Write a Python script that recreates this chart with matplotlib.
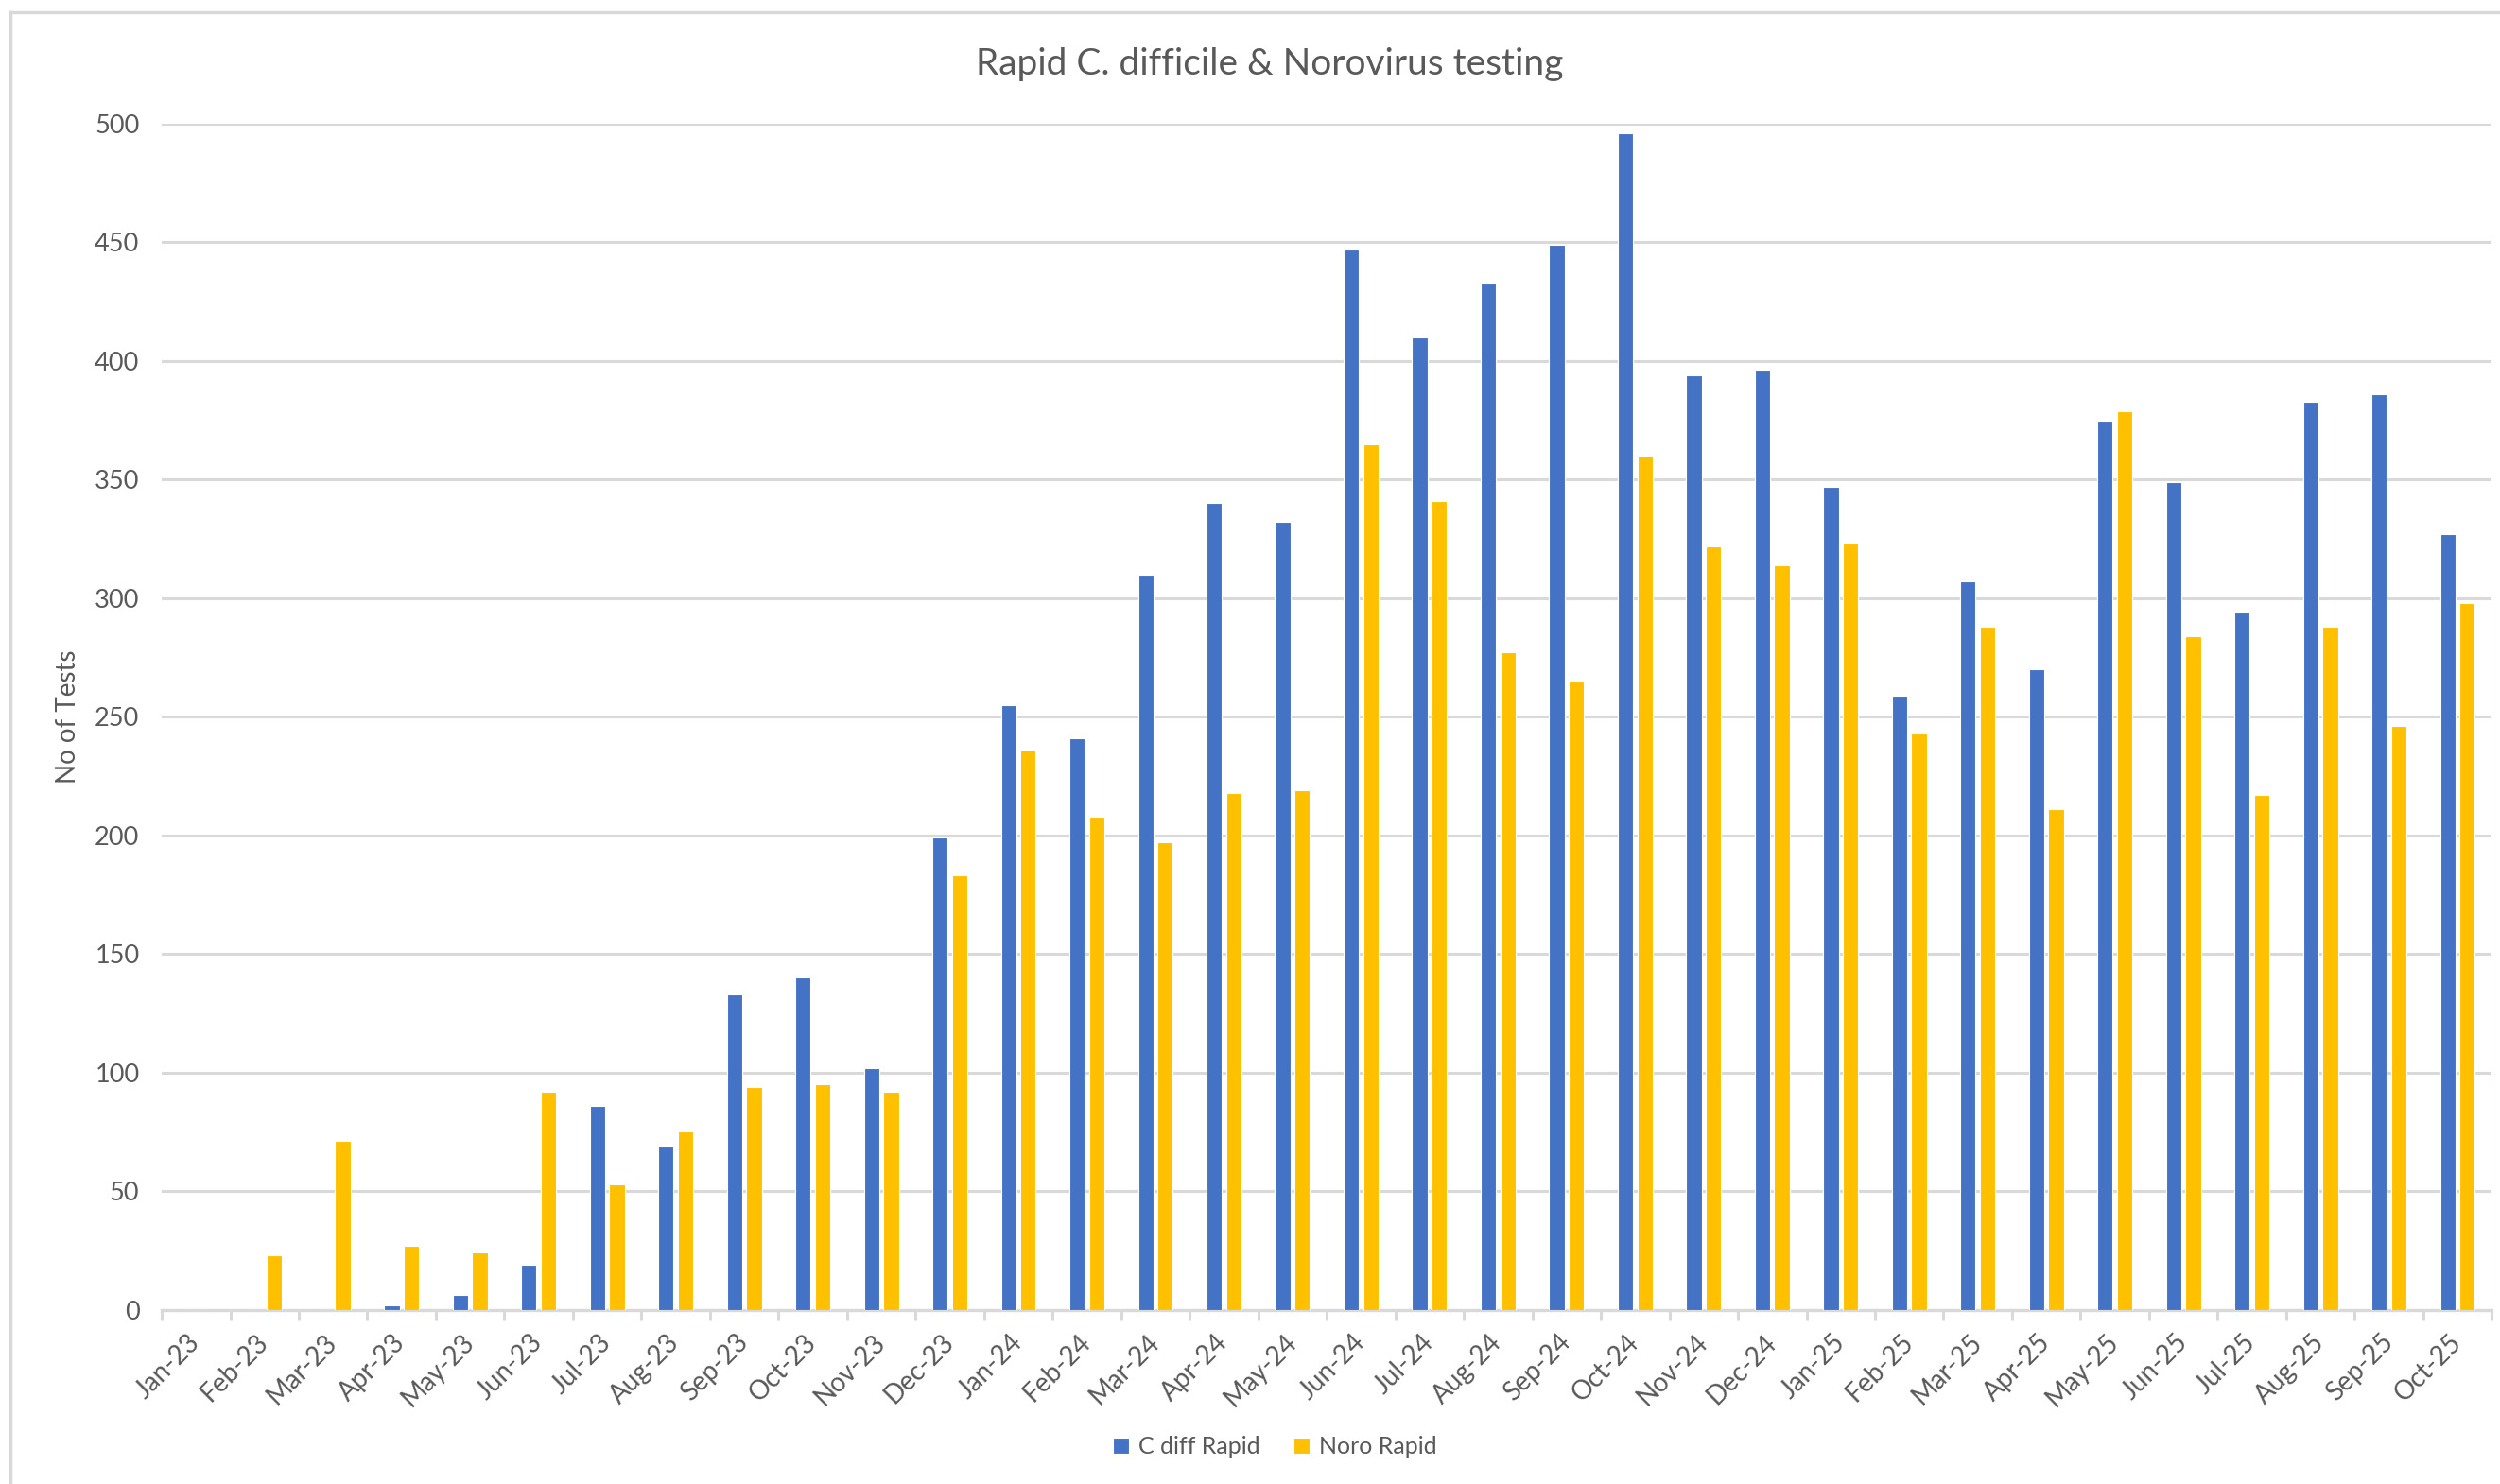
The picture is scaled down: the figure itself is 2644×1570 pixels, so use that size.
import matplotlib
matplotlib.use("Agg")
import matplotlib.pyplot as plt
from matplotlib.lines import Line2D
import numpy as np

plt.rcParams['font.family'] = ['Lato', 'DejaVu Sans']

months = ['Jan-23', 'Feb-23', 'Mar-23', 'Apr-23', 'May-23', 'Jun-23', 'Jul-23', 'Aug-23',
          'Sep-23', 'Oct-23', 'Nov-23', 'Dec-23', 'Jan-24', 'Feb-24', 'Mar-24', 'Apr-24',
          'May-24', 'Jun-24', 'Jul-24', 'Aug-24', 'Sep-24', 'Oct-24', 'Nov-24', 'Dec-24',
          'Jan-25', 'Feb-25', 'Mar-25', 'Apr-25', 'May-25', 'Jun-25', 'Jul-25', 'Aug-25',
          'Sep-25', 'Oct-25']

cdiff_rapid = [0, 0, 0, 2, 6, 19, 86, 69, 133, 140, 102, 199, 255, 241, 310, 340,
               332, 447, 410, 433, 449, 496, 394, 396, 347, 259, 307, 270, 375, 349,
               294, 383, 386, 327]

noro_rapid = [0, 23, 71, 27, 24, 92, 53, 75, 94, 95, 92, 183, 236, 208, 197, 218,
              219, 365, 341, 277, 265, 360, 322, 314, 323, 243, 288, 211, 379, 284,
              217, 288, 246, 298]

blue = '#4472C4'
gold = '#FFC000'
grid_col = '#D9D9D9'
text_col = '#595959'

fig = plt.figure(figsize=(26.44, 15.70), dpi=100)
ax = fig.add_axes([0.0647, 0.1175, 0.932, 0.7991])

x = np.arange(len(months))
w = 0.224
off = 0.1425
ax.bar(x - off, cdiff_rapid, w, color=blue, edgecolor='white', linewidth=0.8,
       label='C diff Rapid', zorder=3)
ax.bar(x + off, noro_rapid, w, color=gold, edgecolor='white', linewidth=0.8,
       label='Noro Rapid', zorder=3)

ax.set_xlim(-0.5, len(months) - 0.5)
ax.set_ylim(0, 500)
ax.set_yticks(np.arange(0, 501, 50))
ax.yaxis.grid(True, color=grid_col, linewidth=2.2, zorder=0)
ax.set_axisbelow(True)

for side in ['top', 'right', 'left']:
    ax.spines[side].set_visible(False)
ax.spines['bottom'].set_color(grid_col)
ax.spines['bottom'].set_linewidth(2.4)

ax.tick_params(axis='y', length=0, pad=17, labelsize=19.5, labelcolor=text_col)
ax.set_xticks(x)
ax.set_xticklabels(months, rotation=45, ha='right', va='center', rotation_mode='anchor')
ax.tick_params(axis='x', which='major', length=0, pad=22, labelsize=20, labelcolor=text_col)
ax.set_xticks(np.arange(-0.5, len(months)), minor=True)
ax.tick_params(axis='x', which='minor', length=8, width=2.2, color=grid_col)

ax.set_ylabel('No of Tests', fontsize=20, color=text_col)
ax.yaxis.set_label_coords(-0.035, 0.5)

fig.text(0.508, 0.957, 'Rapid C. difficile & Norovirus testing', ha='center', va='center',
         fontsize=28, color=text_col)

fig.legend(loc='center', bbox_to_anchor=(0.51, 0.025), ncol=2, frameon=False,
           fontsize=18, labelcolor=text_col, handlelength=0.7, handleheight=0.7,
           handletextpad=0.4, columnspacing=1.4)

# light chart border on the left and top edges
fig.add_artist(Line2D([0.0040, 0.0040], [0, 0.9917], transform=fig.transFigure,
                      color=grid_col, linewidth=2.5))
fig.add_artist(Line2D([0.0040, 1.0], [0.9917, 0.9917], transform=fig.transFigure,
                      color=grid_col, linewidth=2.5))

fig.savefig('out.png', dpi=100, facecolor='white')
